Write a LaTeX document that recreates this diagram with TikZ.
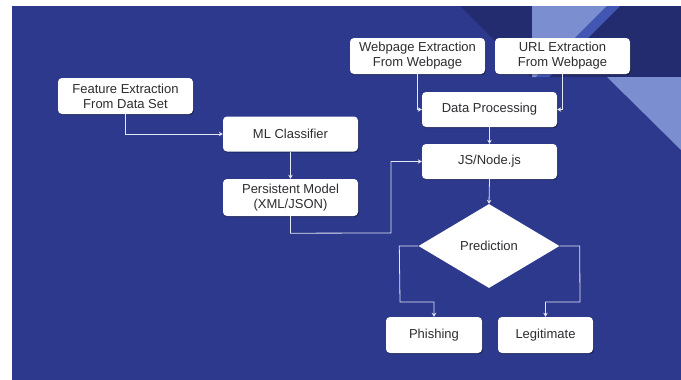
\documentclass[tikz,border=0pt]{standalone}
\usepackage{fontspec}
\setmainfont{Liberation Sans}
\usetikzlibrary{arrows.meta,shapes.geometric,shadows,calc}
\definecolor{bgblue}{RGB}{45,57,140}
\definecolor{navy}{RGB}{36,44,112}
\definecolor{lightblue}{RGB}{122,142,208}
\definecolor{midblue}{RGB}{66,86,180}
\definecolor{linecol}{RGB}{228,232,246}
\definecolor{txt}{RGB}{45,45,50}
\begin{document}
\begin{tikzpicture}[x=1pt,y=-1pt,
  box/.style={draw=none,fill=white,rounded corners=4pt,minimum width=135pt,minimum height=36pt,
    align=center,text=txt,font=\fontsize{13}{15}\selectfont,inner sep=1pt,
    drop shadow={shadow xshift=0.8pt,shadow yshift=-1.2pt,opacity=0.35,fill=black}},
  smallbox/.style={box,minimum width=96pt},
  decision/.style={diamond,fill=white,draw=none,minimum width=141pt,minimum height=84pt,inner sep=0pt,
    aspect=1.68,text=txt,font=\fontsize{13}{15}\selectfont},
  conn/.style={draw=linecol,line width=0.8pt,-{Stealth[length=4pt,width=4.5pt]}}
]
\useasboundingbox (0,0) rectangle (681,380);
\fill[white] (0,0) rectangle (681,380);
\fill[bgblue] (12,6) rectangle (681,380);
% decorations
\fill[navy] (460,6) -- (681,6) -- (681,77) -- (531,77) -- cycle;
\fill[lightblue] (532,6) -- (607,6) -- (536,77) -- (532,77) -- cycle;
\fill[midblue] (607,6) -- (620,6) -- (549,77) -- (536,77) -- cycle;
\fill[lightblue] (607,77) -- (681,77) -- (681,150) -- cycle;

% nodes
\node[box] (feat) at (125.5,96) {Feature Extraction\\From Data Set};
\node[box,minimum height=35pt] (ml) at (290.5,134) {ML Classifier};
\node[box,minimum height=37pt] (pm) at (290.5,197.5) {Persistent Model\\(XML/JSON)};
\node[box] (web) at (417.5,56) {Webpage Extraction\\From Webpage};
\node[box] (url) at (562.5,56) {URL Extraction\\From Webpage};
\node[box,minimum height=35pt] (dp) at (489.5,109.5) {Data Processing};
\node[box,minimum height=35pt] (js) at (489.5,161.5) {JS/Node.js};
\node[decision] (pred) at (489,246) {Prediction};
\node[smallbox] (ph) at (434,335) {Phishing};
\node[smallbox,minimum width=95pt] (leg) at (545.5,335) {Legitimate};

% connectors
\coordinate (pmlow) at ($(pm.south)+(0,17)$);
\coordinate (pmturn) at (391,233);
\coordinate (pl) at ($(pred.west)+(-19,0)$);
\coordinate (plb) at (400,302);
\coordinate (pr) at ($(pred.east)+(20,0)$);
\coordinate (prb) at (580,302);
\draw[conn] (feat.south) |- (ml.west);
\draw[conn] (ml.south) -- (pm.north);
\draw[conn] (pm.south) -- (pmlow) -- (pmturn) |- (js.west);
\draw[conn] (web.south) |- (dp.west);
\draw[conn] (url.south) |- (dp.east);
\draw[conn] (dp.south) -- (js.north);
\draw[conn] (js.south) -- (pred.north);
\draw[conn] (pred.west) -- (pl) -- (plb) -| (ph.north);
\draw[conn] (pred.east) -- (pr) -- (prb) -| (leg.north);
\end{tikzpicture}
\end{document}
